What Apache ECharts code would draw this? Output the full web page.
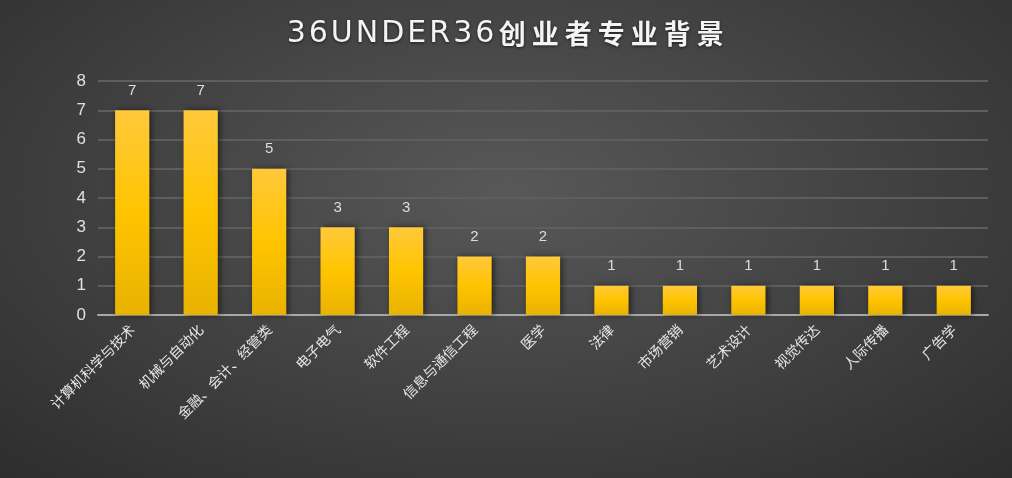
<!DOCTYPE html>
<html>
<head>
<meta charset="utf-8">
<script src="https://cdn.jsdelivr.net/npm/echarts@6/dist/echarts.min.js"></script>
<style>
html,body{margin:0;padding:0;width:1012px;height:478px;overflow:hidden;}
#c{width:1012px;height:478px;background:radial-gradient(ellipse 75% 85% at 50% 40%, #585858 0%, #444 45%, #2c2c2c 100%);}
</style>
</head>
<body>
<div id="c"></div>
<script>
var titleText = '36UNDER36创业者专业背景';
var categories = ['计算机科学与技术','机械与自动化','金融、会计、经管类','电子电气','软件工程','信息与通信工程','医学','法律','市场营销','艺术设计','视觉传达','人际传播','广告学'];
var values = [7,7,5,3,3,2,2,1,1,1,1,1,1];
var yMin = 0, yMax = 8, yStep = 1;

// spaced title built from the text, each character its own rich token
var titleRich = titleText.split('').map(function(ch){
  return /[\u4e00-\u9fff]/.test(ch) ? '{h|' + ch + '}' : '{l|' + ch + '}';
}).join('');

var chart = echarts.init(document.getElementById('c'), null, {renderer:'canvas'});
chart.setOption({
  backgroundColor: 'transparent',
  title: {
    text: titleRich,
    left: 'center',
    top: 14,
    textStyle: {
      color:'#f4f4f4', fontSize:28, fontFamily:'"Noto Sans CJK SC", sans-serif',
      rich: {
        l: {color:'#f4f4f4', fontSize:30, fontWeight:'normal', fontFamily:'"DejaVu Sans", sans-serif', padding:[0,1.5,0,1.5],
            textShadowColor:'rgba(0,0,0,0.6)', textShadowBlur:3, textShadowOffsetY:1},
        h: {color:'#f4f4f4', fontSize:27, fontWeight:'bold', fontFamily:'"Noto Sans CJK SC", sans-serif', padding:[0,3,0,3],
            textShadowColor:'rgba(0,0,0,0.6)', textShadowBlur:3, textShadowOffsetY:1}
      }
    }
  },
  grid: {left:98, right:24, top:81, bottom:163, containLabel:false},
  xAxis: {
    type:'category',
    data: categories,
    axisLine:{lineStyle:{color:'#a8a8a8', width:2}},
    axisTick:{show:false},
    axisLabel:{rotate:45, interval:0, color:'#e6e6e6', fontSize:14, margin:12, fontFamily:'"Noto Sans CJK SC", sans-serif'}
  },
  yAxis: {
    type:'value', min:yMin, max:yMax, interval:yStep,
    axisLine:{show:false}, axisTick:{show:false},
    axisLabel:{color:'#e0e0e0', fontSize:17, margin:12, fontFamily:'"Liberation Sans", Arial, sans-serif'},
    splitLine:{lineStyle:{color:'#5e5e5e', width:2}}
  },
  series: [{
    type:'bar',
    data: values,
    barWidth:'50%',
    itemStyle:{
      color: new echarts.graphic.LinearGradient(0,0,0,1,[
        {offset:0, color:'#ffc93a'},
        {offset:0.5, color:'#ffc400'},
        {offset:1, color:'#e8b200'}
      ]),
      shadowColor:'rgba(0,0,0,0.55)', shadowBlur:6, shadowOffsetX:2, shadowOffsetY:0
    },
    label:{show:true, position:'top', distance:12, color:'#dddddd', fontSize:15, fontFamily:'"Liberation Sans", Arial, sans-serif'}
  }]
});
</script>
</body>
</html>
